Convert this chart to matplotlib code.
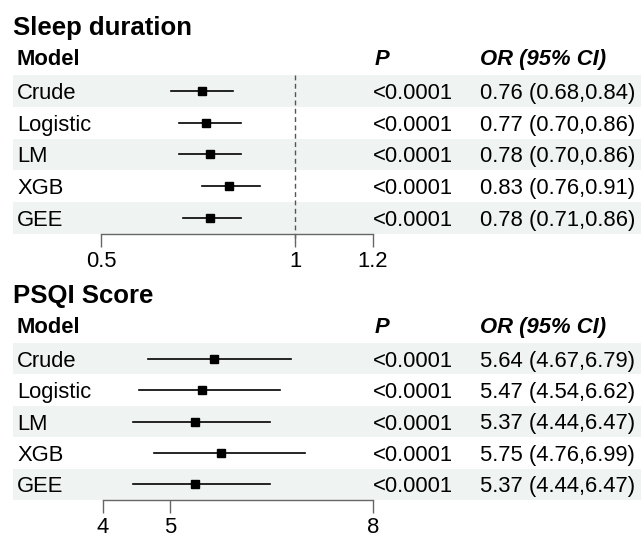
"""Forest plots of sleep duration and PSQI score across models."""
import matplotlib
matplotlib.use("Agg")
import matplotlib.pyplot as plt
import matplotlib.transforms as mtransforms

plt.rcParams["font.family"] = ["Liberation Sans", "DejaVu Sans"]

models = ["Crude", "Logistic", "LM", "XGB", "GEE"]
p_values = ["<0.0001"] * 5

sleep_est = [0.76, 0.77, 0.78, 0.83, 0.78]
sleep_lo = [0.68, 0.70, 0.70, 0.76, 0.71]
sleep_hi = [0.84, 0.86, 0.86, 0.91, 0.86]
sleep_ticks = [0.5, 1, 1.2]
sleep_ticklabels = ["0.5", "1", "1.2"]

psqi_est = [5.64, 5.47, 5.37, 5.75, 5.37]
psqi_lo = [4.67, 4.54, 4.44, 4.76, 4.44]
psqi_hi = [6.79, 6.62, 6.47, 6.99, 6.47]
psqi_ticks = [4, 5, 8]
psqi_ticklabels = ["4", "5", "8"]

W, H = 641, 533
BAND = "#eff3f2"
FS = 15.8

fig = plt.figure(figsize=(W / 100, H / 100), dpi=100)


def panel(title, est, lo, hi, ticks, ticklabels, ref, top_px, bottom_px, px0, px1):
    ax = fig.add_axes([0, 1 - bottom_px / H, 1, (bottom_px - top_px) / H])
    # map the first and last tick to the given pixel columns
    scale = (ticks[-1] - ticks[0]) / (px1 - px0)
    left = ticks[0] - px0 * scale
    ax.set_xlim(left, left + W * scale)
    n = len(models)
    ax.set_ylim(n - 0.5, -0.5)
    row_px = (bottom_px - top_px) / n

    for i in range(0, n, 2):
        ax.axhspan(i - 0.5, i + 0.5, xmin=13 / W, xmax=1, color=BAND, lw=0, zorder=0)

    if ref is not None:
        ax.plot([ref, ref], [-0.5, n - 0.25], color="#555555", lw=1,
                ls=(0, (3.5, 2.5)), clip_on=False, zorder=1)

    for i in range(n):
        ax.plot([lo[i], hi[i]], [i, i], color="black", lw=1.2, zorder=2)
    ax.plot(est, range(n), "s", color="black", ms=5.5, zorder=3)

    tr = mtransforms.blended_transform_factory(ax.transAxes, ax.transData)
    for i, m in enumerate(models):
        ax.text(17 / W, i, m, transform=tr, fontsize=FS, va="center_baseline")
        ax.text(373 / W, i, p_values[i], transform=tr, fontsize=FS, va="center_baseline")
        ax.text(480 / W, i, f"{est[i]:.2f} ({lo[i]:.2f},{hi[i]:.2f})", transform=tr,
                fontsize=FS, va="center_baseline")

    hy = -0.5 - 18 / row_px
    ax.text(17 / W, hy, "Model", transform=tr, fontsize=FS, fontweight="bold",
            va="center_baseline")
    ax.text(375 / W, hy, "P", transform=tr, fontsize=FS, fontweight="bold",
            fontstyle="italic", va="center_baseline")
    ax.text(480 / W, hy, "OR (95% CI)", transform=tr, fontsize=FS, fontweight="bold",
            fontstyle="italic", va="center_baseline")
    ax.text(13 / W, -0.5 - 49 / row_px, title, transform=tr, fontsize=18.5,
            fontweight="bold", va="center_baseline")

    for s in ["top", "left", "right"]:
        ax.spines[s].set_visible(False)
    ax.spines["bottom"].set_bounds(ticks[0], ticks[-1])
    ax.spines["bottom"].set_color("#666666")
    ax.spines["bottom"].set_linewidth(1)
    ax.set_yticks([])
    ax.set_xticks(ticks, ticklabels)
    ax.tick_params(axis="x", direction="out", length=9.5, width=1, color="#666666",
                   labelsize=FS, pad=2.5)
    ax.patch.set_visible(False)
    return ax


panel("Sleep duration", sleep_est, sleep_lo, sleep_hi, sleep_ticks, sleep_ticklabels,
      1, 75, 234, 101, 373)
panel("PSQI Score", psqi_est, psqi_lo, psqi_hi, psqi_ticks, psqi_ticklabels,
      None, 343, 500, 103, 372.7)

fig.savefig("out.png", dpi=100)
